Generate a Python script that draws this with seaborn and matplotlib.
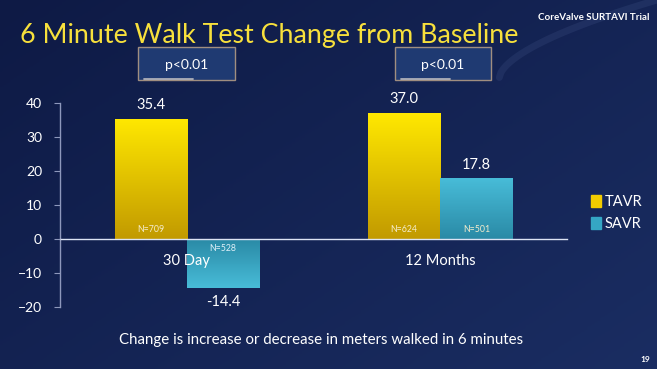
import numpy as np
import pandas as pd
import matplotlib
matplotlib.use("Agg")
import matplotlib.pyplot as plt
import matplotlib.patches as mpatches
from matplotlib.colors import LinearSegmentedColormap
import seaborn as sns

# ------------------------------------------------------------
# Data
# ------------------------------------------------------------
timepoints = ["30 Day", "12 Months"]
groups = ["TAVR", "SAVR"]
tavr_values = [35.4, 37.0]
savr_values = [-14.4, 17.8]
tavr_n = ["N=709", "N=624"]
savr_n = ["N=528", "N=501"]
p_values = ["p<0.01", "p<0.01"]
y_ticks = [-20, -10, 0, 10, 20, 30, 40]

df = pd.DataFrame({
    "timepoint": timepoints * 2,
    "group": ["TAVR"] * 2 + ["SAVR"] * 2,
    "value": tavr_values + savr_values,
    "n": tavr_n + savr_n,
})

sns.set_style("white")
plt.rcParams["font.family"] = ["Lato", "DejaVu Sans"]

W, H = 657, 369
fig = plt.figure(figsize=(W / 100, H / 100), dpi=100)

# background gradient
bg = fig.add_axes([0, 0, 1, 1], zorder=-10)
xx, yy = np.meshgrid(np.linspace(0, 1, 200), np.linspace(0, 1, 200))
grad = 0.55 * xx + 0.45 * yy
bg_cmap = LinearSegmentedColormap.from_list("bg", ["#0e1a45", "#1a2d62"])
bg.imshow(grad, cmap=bg_cmap, aspect="auto", extent=[0, 1, 0, 1], origin="upper")
# faint swoosh behind the header
t = np.linspace(0, 1, 100)
bg.plot(0.76 + 0.24 * t, 0.79 + 0.21 * t ** 0.6, color="#7088c0", alpha=0.12, lw=5)
bg.set_xlim(0, 1)
bg.set_ylim(0, 1)
bg.axis("off")

ax = fig.add_axes([60 / W, 62 / H, 507 / W, 204 / H])
ax.patch.set_alpha(0)

palette = {"TAVR": "#f2cc00", "SAVR": "#35a6c4"}
sns.barplot(data=df, x="timepoint", y="value", hue="group", hue_order=groups,
            order=timepoints, palette=palette, width=0.57, ax=ax, legend=False,
            saturation=1, edgecolor="none")

# gradient fill for the bars (darker near zero, lighter at the bar end)
cmaps = {
    "TAVR": LinearSegmentedColormap.from_list("t", ["#c29a00", "#ffe800"]),
    "SAVR": LinearSegmentedColormap.from_list("s", ["#2a8aa6", "#48bcd8"]),
}
grad_v = np.linspace(0, 1, 100).reshape(-1, 1)
for bars, grp in zip(ax.containers, groups):
    for bar in bars:
        x0, y0 = bar.get_x(), bar.get_y()
        w, h = bar.get_width(), bar.get_height()
        ylo, yhi = min(y0, y0 + h), max(y0, y0 + h)
        g = grad_v if h >= 0 else grad_v[::-1]
        im = ax.imshow(g, cmap=cmaps[grp], aspect="auto", origin="lower",
                       extent=[x0, x0 + w, ylo, yhi], zorder=1.1)
        im.set_clip_path(bar)
ax.set_xlim(-0.5, 1.5)
ax.set_ylim(-20, 40)
ax.set_yticks(y_ticks)
ax.set_xlabel("")
ax.set_ylabel("")
ax.set_axisbelow(False)

# value labels and N labels
for bars, grp, ns in zip(ax.containers, groups, [tavr_n, savr_n]):
    for bar, n in zip(bars, ns):
        xc = bar.get_x() + bar.get_width() / 2
        v = bar.get_height()
        if v >= 0:
            ax.annotate(f"{v:.1f}", (xc, v), xytext=(0, 10), textcoords="offset points",
                        ha="center", va="center", color="white", fontsize=10.5)
            ax.annotate(n, (xc, 0), xytext=(0, 7), textcoords="offset points",
                        ha="center", va="center", color="#f4eccc", fontsize=6.3, zorder=5)
        else:
            ax.annotate(f"{v:.1f}", (xc, v), xytext=(0, -10), textcoords="offset points",
                        ha="center", va="center", color="white", fontsize=10.5)
            ax.annotate(n, (xc, 0), xytext=(0, -7), textcoords="offset points",
                        ha="center", va="center", color="#e0f0f8", fontsize=6.3, zorder=5)

# axes styling
spine_col = "#8e98bc"
for s in ["top", "right"]:
    ax.spines[s].set_visible(False)
ax.spines["left"].set_color(spine_col)
ax.spines["left"].set_linewidth(1.0)
ax.spines["bottom"].set_position(("data", 0))
ax.spines["bottom"].set_color("#dde4f4")
ax.spines["bottom"].set_linewidth(1.0)
ax.tick_params(axis="y", colors=spine_col, labelcolor="white", labelsize=10,
               length=4, direction="out", pad=9, left=True)
ax.tick_params(axis="x", which="major", length=0, labelcolor="white", labelsize=10.5,
               pad=11, bottom=True)
ax.set_xticks([0.5, 1.5], minor=True)
ax.tick_params(axis="x", which="minor", length=4, color="#dde4f4", direction="out")
ax.grid(False)

# legend
handles = [mpatches.Patch(color=palette[g], label=g) for g in groups]
leg = fig.legend(handles=handles, loc="upper left", bbox_to_anchor=(578 / W, 1 - 182 / H),
                 frameon=False, fontsize=10.5, handlelength=0.7, handleheight=0.9,
                 handletextpad=0.25, labelspacing=0.55)
for txt in leg.get_texts():
    txt.set_color("white")

# title and header
fig.text(20 / W, 1 - 36 / H, "6 Minute Walk Test Change from Baseline",
         color="#f7e03c", fontsize=19.3, ha="left", va="center")
fig.text(650 / W, 1 - 18 / H, "CoreValve SURTAVI Trial", color="white",
         fontsize=7, ha="right", va="center", fontweight="bold")

# p-value boxes
for (x0, x1), p in zip([(138, 235), (395, 491)], p_values):
    rect = mpatches.Rectangle((x0 / W, 1 - 80 / H), (x1 - x0) / W, 33 / H,
                              transform=fig.transFigure, facecolor="#1f3a72",
                              edgecolor="#a08e80", linewidth=1.0, zorder=3)
    fig.patches.append(rect)
    fig.add_artist(plt.Line2D([(x0 + 6) / W, (x0 + 55) / W], [1 - 79 / H, 1 - 79 / H],
                              transform=fig.transFigure, color="#e8e0d8", lw=1.3,
                              alpha=0.7, zorder=4))
    fig.text((x0 + x1) / 2 / W, 1 - 65 / H, p, color="white", fontsize=10,
             ha="center", va="center", zorder=5)

# footnote and page number
fig.text(321 / W, 1 - 340 / H, "Change is increase or decrease in meters walked in 6 minutes",
         color="white", fontsize=10.8, ha="center", va="center")
fig.text(645 / W, 1 - 360 / H, "19", color="white", fontsize=6, ha="center",
         va="center", fontweight="bold")

fig.savefig("out.png", dpi=100)
